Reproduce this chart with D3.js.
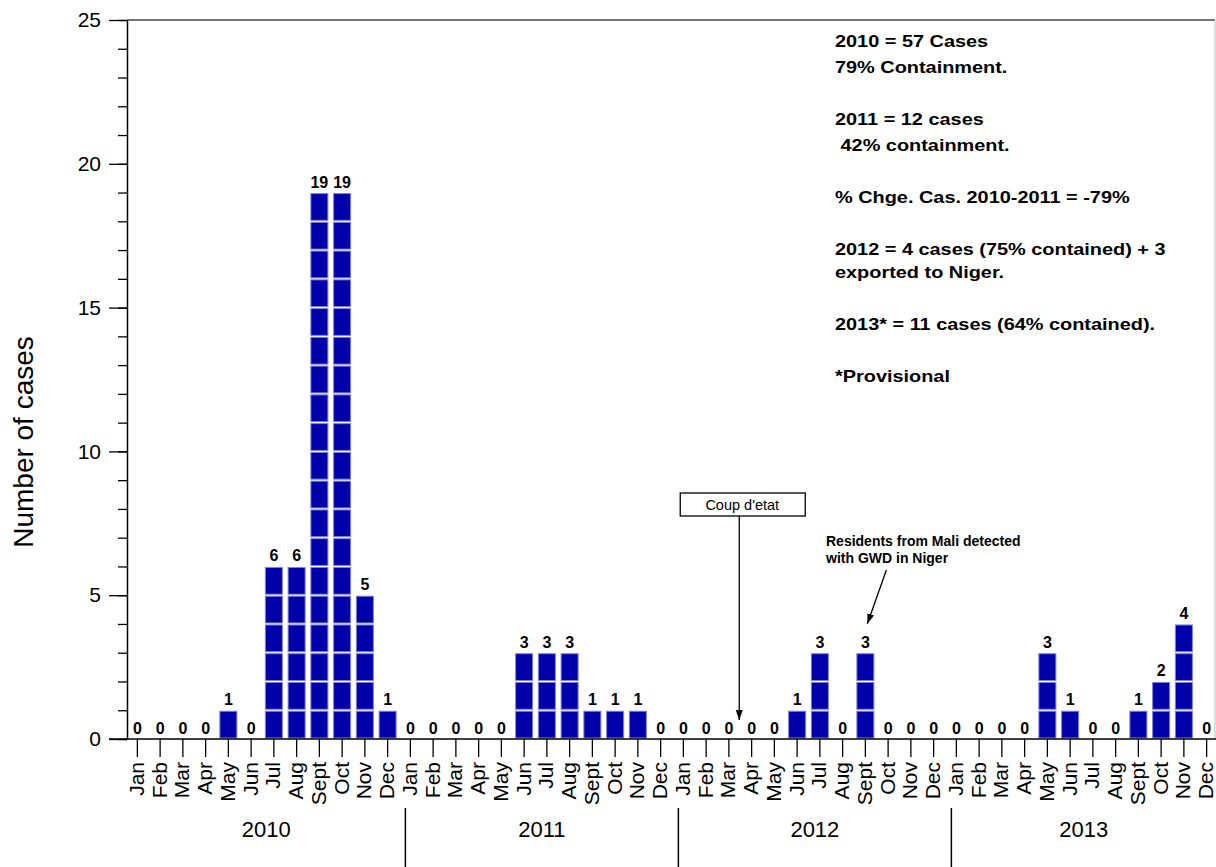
<!DOCTYPE html>
<html>
<head>
<meta charset="utf-8">
<script src="https://cdn.jsdelivr.net/npm/d3@7"></script>
<style>
  body { margin: 0; background: #fff; }
  svg text { font-family: Arial, "Liberation Sans", sans-serif; }
</style>
</head>
<body>
<div id="chart"></div>
<script>
// Monthly case counts, Jan 2010 - Dec 2013
const years = ["2010", "2011", "2012", "2013"];
const monthNames = ["Jan", "Feb", "Mar", "Apr", "May", "Jun", "Jul", "Aug", "Sept", "Oct", "Nov", "Dec"];
const cases2010 = [0, 0, 0, 0, 1, 0, 6, 6, 19, 19, 5, 1];
const cases2011 = [0, 0, 0, 0, 0, 3, 3, 3, 1, 1, 1, 0];
const cases2012 = [0, 0, 0, 0, 0, 1, 3, 0, 3, 0, 0, 0];
const cases2013 = [0, 0, 0, 0, 3, 1, 0, 0, 1, 2, 4, 0];
const yTicks = [0, 5, 10, 15, 20, 25];

const notes = [
  "2010 = 57 Cases", "79% Containment.", "",
  "2011 = 12 cases", " 42% containment.", "",
  "% Chge. Cas. 2010-2011 = -79%", "",
  "2012 = 4 cases (75% contained) + 3", "exported to Niger.", "",
  "2013* = 11 cases (64% contained).", "",
  "*Provisional"
];

const allCases = [cases2010, cases2011, cases2012, cases2013];
const data = [];
years.forEach((yr, i) => {
  monthNames.forEach((m, j) => {
    data.push({ key: yr + "-" + j, year: yr, month: m, value: allCases[i][j] });
  });
});

const W = 1216, H = 867;
const svg = d3.select("#chart").append("svg")
    .attr("width", W)
    .attr("height", H);

const x = d3.scaleBand()
    .domain(data.map(d => d.key))
    .range([126, 1218]);
const y = d3.scaleLinear()
    .domain([0, 25])
    .range([739, 20]);

const cx = k => x(k) + x.bandwidth() / 2;

// frame: top and right
svg.append("line")
    .attr("x1", 127).attr("x2", 1215)
    .attr("y1", y(25)).attr("y2", y(25))
    .attr("stroke", "#444").attr("stroke-width", 1.5);
svg.append("line")
    .attr("x1", 1215).attr("x2", 1215)
    .attr("y1", y(25)).attr("y2", y(0))
    .attr("stroke", "#bbb").attr("stroke-width", 1);

// bars, drawn as stacked unit blocks
const unit = y(0) - y(1);
const barW = 17;
const blocks = [];
data.forEach(d => {
  for (let k = 0; k < d.value; k++) blocks.push({ key: d.key, k: k });
});
svg.append("g")
  .selectAll("rect")
  .data(blocks)
  .enter()
  .append("rect")
    .attr("x", d => cx(d.key) - barW / 2)
    .attr("y", d => y(d.k + 1) + 1)
    .attr("width", barW)
    .attr("height", unit - 2)
    .attr("fill", "#0000aa")
    .attr("stroke", "#8080d8")
    .attr("stroke-width", 1);

// value labels
svg.append("g")
  .selectAll("text")
  .data(data)
  .enter()
  .append("text")
    .attr("x", d => cx(d.key))
    .attr("y", d => y(d.value) - 5)
    .attr("text-anchor", "middle")
    .attr("font-size", 16)
    .attr("font-weight", "bold")
    .text(d => d.value);

// Y axis: major and minor ticks
const yMinor = svg.append("g")
    .attr("transform", "translate(127,0)")
    .call(d3.axisLeft(y).ticks(25).tickSize(9).tickFormat(""));
yMinor.select(".domain").remove();
yMinor.selectAll("line").attr("stroke", "#000").attr("stroke-width", 1.3);

const yAxis = svg.append("g")
    .attr("transform", "translate(127,0)")
    .call(d3.axisLeft(y).tickValues(yTicks).tickSize(18).tickPadding(8).tickSizeOuter(0));
yAxis.select(".domain").attr("stroke", "#000").attr("stroke-width", 1.5);
yAxis.selectAll("line").attr("stroke", "#000").attr("stroke-width", 1.3);
yAxis.selectAll("text")
    .attr("font-size", 21)
    .attr("font-family", "Arial, 'Liberation Sans', sans-serif")
    .attr("fill", "#000");

svg.append("text")
    .attr("transform", "translate(33,442) rotate(-90)")
    .attr("text-anchor", "middle")
    .attr("font-size", 28)
    .text("Number of cases");

// X axis: month ticks and rotated names
svg.append("line")
    .attr("x1", 109).attr("x2", 1216)
    .attr("y1", y(0)).attr("y2", y(0))
    .attr("stroke", "#000").attr("stroke-width", 1.5);

const xAxis = svg.append("g")
    .attr("transform", "translate(0," + y(0) + ")")
    .call(d3.axisBottom(x).tickSize(18).tickSizeOuter(0)
      .tickFormat(k => data.find(d => d.key === k).month));
xAxis.select(".domain").remove();
xAxis.selectAll("line").attr("stroke", "#000").attr("stroke-width", 1.3);
xAxis.selectAll("text")
    .attr("font-size", 21)
    .attr("font-family", "Arial, 'Liberation Sans', sans-serif")
    .attr("fill", "#000")
    .attr("text-anchor", "end")
    .attr("transform", "rotate(-90)")
    .attr("x", -23)
    .attr("y", -1)
    .attr("dy", "0.36em");

// year separators and labels
const yearEdges = [127];
years.slice(1).forEach(yr => yearEdges.push(x(yr + "-0") + x.bandwidth() / 2 - 5));
yearEdges.push(1216);

svg.append("g")
  .selectAll("line")
  .data(yearEdges.slice(1, -1))
  .enter()
  .append("line")
    .attr("x1", d => d).attr("x2", d => d)
    .attr("y1", 808).attr("y2", H)
    .attr("stroke", "#000").attr("stroke-width", 1.5);

svg.append("g")
  .selectAll("text")
  .data(years)
  .enter()
  .append("text")
    .attr("x", (d, i) => (yearEdges[i] + yearEdges[i + 1]) / 2)
    .attr("y", 837)
    .attr("text-anchor", "middle")
    .attr("font-size", 22)
    .text(d => d);

// arrow marker
svg.append("defs").append("marker")
    .attr("id", "arrow")
    .attr("viewBox", "0 0 10 10")
    .attr("refX", 10).attr("refY", 5)
    .attr("markerWidth", 10).attr("markerHeight", 10)
    .attr("markerUnits", "userSpaceOnUse")
    .attr("orient", "auto")
  .append("path")
    .attr("d", "M0,1.5 L10,5 L0,8.5 Z")
    .attr("fill", "#000");

// Coup d'etat annotation
const coupX = cx("2012-2") + x.bandwidth() / 2 - 1;
svg.append("rect")
    .attr("x", coupX - 59).attr("y", 493)
    .attr("width", 125).attr("height", 23)
    .attr("fill", "#fff").attr("stroke", "#000").attr("stroke-width", 1.3);
svg.append("text")
    .attr("x", coupX + 3).attr("y", 510)
    .attr("text-anchor", "middle")
    .attr("font-size", 14.5)
    .text("Coup d'etat");
svg.append("line")
    .attr("x1", coupX).attr("x2", coupX)
    .attr("y1", 516).attr("y2", y(0) - 19)
    .attr("stroke", "#000").attr("stroke-width", 1.3)
    .attr("marker-end", "url(#arrow)");

// Mali residents annotation
const maliX = cx("2012-8");
svg.append("text")
    .attr("x", 826).attr("y", 546)
    .attr("font-size", 14).attr("font-weight", "bold")
    .text("Residents from Mali detected");
svg.append("text")
    .attr("x", 826).attr("y", 563)
    .attr("font-size", 14).attr("font-weight", "bold")
    .text("with GWD in Niger");
svg.append("line")
    .attr("x1", maliX + 21).attr("x2", maliX + 2)
    .attr("y1", 570).attr("y2", y(3) - 29)
    .attr("stroke", "#000").attr("stroke-width", 1.3)
    .attr("marker-end", "url(#arrow)");

// summary notes
const noteG = svg.append("g")
    .attr("transform", "translate(835,0) scale(1.17,1)");
let ny = 47;
notes.forEach((t, i) => {
  if (t !== "") {
    noteG.append("text")
        .attr("x", 0)
        .attr("y", ny)
        .attr("font-size", 17)
        .attr("font-weight", "bold")
        .attr("xml:space", "preserve")
        .style("white-space", "pre")
        .text(t);
  }
  const next = notes[i + 1];
  ny += (t !== "" && next !== "" && i === 8) ? 23 : 26;
});
</script>
</body>
</html>
